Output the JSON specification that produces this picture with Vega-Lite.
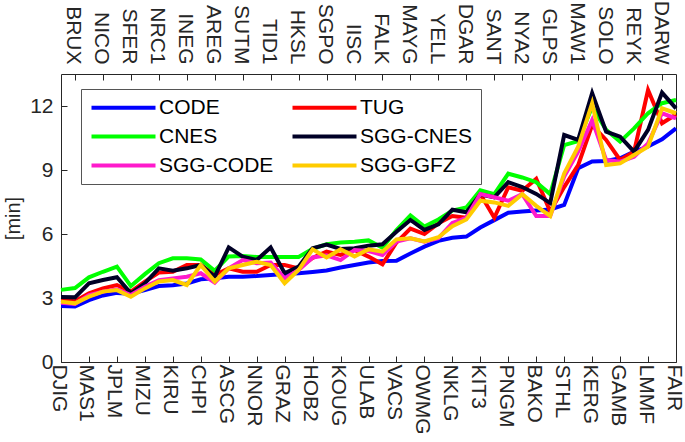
{
  "$schema": "https://vega.github.io/schema/vega-lite/v6.json",
  "width": 615,
  "height": 288,
  "autosize": "none",
  "padding": {"left": 61, "top": 74, "right": 9, "bottom": 80},
  "background": "white",
  "config": {
    "view": {"stroke": "#262626", "strokeWidth": 1},
    "font": "Liberation Sans",
    "axis": {
      "labelFont": "Liberation Sans",
      "labelFontSize": 21,
      "labelColor": "#262626",
      "titleFont": "Liberation Sans",
      "titleFontSize": 20,
      "titleFontWeight": "normal",
      "titleColor": "#262626",
      "domain": false,
      "grid": false,
      "tickColor": "#262626",
      "tickSize": -6,
      "tickWidth": 1
    }
  },
  "data": {
    "values": [
      {"st": "DJIG", "CODE": 2.62, "TUG": 2.91, "CNES": 3.38, "SGG-CNES": 3.05, "SGG-CODE": 2.78, "SGG-GFZ": 2.83},
      {"st": "BRUX", "CODE": 2.6, "TUG": 2.85, "CNES": 3.47, "SGG-CNES": 3.03, "SGG-CODE": 2.72, "SGG-GFZ": 2.75},
      {"st": "MAS1", "CODE": 2.9, "TUG": 3.22, "CNES": 3.97, "SGG-CNES": 3.69, "SGG-CODE": 3.14, "SGG-GFZ": 3.06},
      {"st": "NICO", "CODE": 3.12, "TUG": 3.45, "CNES": 4.23, "SGG-CNES": 3.84, "SGG-CODE": 3.3, "SGG-GFZ": 3.3},
      {"st": "JPLM", "CODE": 3.24, "TUG": 3.61, "CNES": 4.47, "SGG-CNES": 3.97, "SGG-CODE": 3.41, "SGG-GFZ": 3.37},
      {"st": "SFER", "CODE": 3.2, "TUG": 3.3, "CNES": 3.56, "SGG-CNES": 3.22, "SGG-CODE": 3.14, "SGG-GFZ": 3.06},
      {"st": "MIZU", "CODE": 3.37, "TUG": 3.77, "CNES": 4.12, "SGG-CNES": 3.69, "SGG-CODE": 3.53, "SGG-GFZ": 3.45},
      {"st": "NRC1", "CODE": 3.56, "TUG": 4.19, "CNES": 4.63, "SGG-CNES": 4.39, "SGG-CODE": 3.84, "SGG-GFZ": 3.77},
      {"st": "KIRU", "CODE": 3.6, "TUG": 4.23, "CNES": 4.86, "SGG-CNES": 4.28, "SGG-CODE": 3.92, "SGG-GFZ": 3.84},
      {"st": "INEG", "CODE": 3.68, "TUG": 4.55, "CNES": 4.86, "SGG-CNES": 4.39, "SGG-CODE": 4.0, "SGG-GFZ": 3.61},
      {"st": "CHPI", "CODE": 3.88, "TUG": 4.55, "CNES": 4.81, "SGG-CNES": 4.55, "SGG-CODE": 4.16, "SGG-GFZ": 4.55},
      {"st": "AREG", "CODE": 3.92, "TUG": 4.08, "CNES": 4.28, "SGG-CNES": 4.0, "SGG-CODE": 3.72, "SGG-GFZ": 3.77},
      {"st": "ASCG", "CODE": 4.0, "TUG": 4.39, "CNES": 4.95, "SGG-CNES": 5.37, "SGG-CODE": 4.39, "SGG-GFZ": 4.39},
      {"st": "SUTM", "CODE": 4.0, "TUG": 4.23, "CNES": 4.97, "SGG-CNES": 4.94, "SGG-CODE": 4.78, "SGG-GFZ": 4.55},
      {"st": "NNOR", "CODE": 4.03, "TUG": 4.23, "CNES": 4.92, "SGG-CNES": 4.78, "SGG-CODE": 4.63, "SGG-GFZ": 4.7},
      {"st": "TID1", "CODE": 4.08, "TUG": 4.55, "CNES": 4.92, "SGG-CNES": 5.37, "SGG-CODE": 4.66, "SGG-GFZ": 4.55},
      {"st": "GRAZ", "CODE": 4.12, "TUG": 4.55, "CNES": 4.92, "SGG-CNES": 4.16, "SGG-CODE": 3.92, "SGG-GFZ": 3.69},
      {"st": "HKSL", "CODE": 4.16, "TUG": 4.39, "CNES": 4.92, "SGG-CNES": 4.47, "SGG-CODE": 4.31, "SGG-GFZ": 4.31},
      {"st": "HOB2", "CODE": 4.22, "TUG": 4.88, "CNES": 5.3, "SGG-CNES": 5.33, "SGG-CODE": 4.9, "SGG-GFZ": 5.28},
      {"st": "SGPO", "CODE": 4.29, "TUG": 5.17, "CNES": 5.52, "SGG-CNES": 5.5, "SGG-CODE": 5.0, "SGG-GFZ": 4.9},
      {"st": "KOUG", "CODE": 4.43, "TUG": 5.02, "CNES": 5.6, "SGG-CNES": 5.3, "SGG-CODE": 4.78, "SGG-GFZ": 5.28},
      {"st": "IISC", "CODE": 4.55, "TUG": 5.25, "CNES": 5.64, "SGG-CNES": 5.33, "SGG-CODE": 5.25, "SGG-GFZ": 4.95},
      {"st": "ULAB", "CODE": 4.66, "TUG": 4.94, "CNES": 5.7, "SGG-CNES": 5.45, "SGG-CODE": 5.2, "SGG-GFZ": 5.28},
      {"st": "FALK", "CODE": 4.73, "TUG": 4.58, "CNES": 5.36, "SGG-CNES": 5.52, "SGG-CODE": 5.02, "SGG-GFZ": 5.17},
      {"st": "VACS", "CODE": 4.75, "TUG": 5.6, "CNES": 6.19, "SGG-CNES": 6.11, "SGG-CODE": 5.64, "SGG-GFZ": 5.75},
      {"st": "MAYG", "CODE": 5.09, "TUG": 6.25, "CNES": 6.87, "SGG-CNES": 6.66, "SGG-CODE": 5.8, "SGG-GFZ": 5.8},
      {"st": "OWMG", "CODE": 5.41, "TUG": 6.0, "CNES": 6.35, "SGG-CNES": 6.19, "SGG-CODE": 5.64, "SGG-GFZ": 5.65},
      {"st": "YELL", "CODE": 5.68, "TUG": 6.5, "CNES": 6.68, "SGG-CNES": 6.45, "SGG-CODE": 5.8, "SGG-GFZ": 5.85},
      {"st": "NKLG", "CODE": 5.82, "TUG": 6.84, "CNES": 7.1, "SGG-CNES": 7.14, "SGG-CODE": 6.52, "SGG-GFZ": 6.37},
      {"st": "DGAR", "CODE": 5.88, "TUG": 6.76, "CNES": 7.24, "SGG-CNES": 7.02, "SGG-CODE": 6.76, "SGG-GFZ": 6.68},
      {"st": "KIT3", "CODE": 6.3, "TUG": 7.87, "CNES": 8.05, "SGG-CNES": 7.85, "SGG-CODE": 7.87, "SGG-GFZ": 7.56},
      {"st": "SANT", "CODE": 6.65, "TUG": 6.76, "CNES": 7.87, "SGG-CNES": 7.72, "SGG-CODE": 7.72, "SGG-GFZ": 7.48},
      {"st": "PNGM", "CODE": 7.0, "TUG": 8.19, "CNES": 8.83, "SGG-CNES": 8.43, "SGG-CODE": 7.56, "SGG-GFZ": 7.32},
      {"st": "NYA2", "CODE": 7.05, "TUG": 8.03, "CNES": 8.65, "SGG-CNES": 8.2, "SGG-CODE": 7.87, "SGG-GFZ": 7.87},
      {"st": "BAKO", "CODE": 7.1, "TUG": 8.59, "CNES": 8.43, "SGG-CNES": 7.88, "SGG-CODE": 6.84, "SGG-GFZ": 7.32},
      {"st": "GLPS", "CODE": 7.15, "TUG": 7.05, "CNES": 7.87, "SGG-CNES": 7.45, "SGG-CODE": 6.84, "SGG-GFZ": 6.84},
      {"st": "STHL", "CODE": 7.36, "TUG": 8.2, "CNES": 10.17, "SGG-CNES": 10.64, "SGG-CODE": 8.69, "SGG-GFZ": 8.84},
      {"st": "MAW1", "CODE": 9.08, "TUG": 9.23, "CNES": 10.35, "SGG-CNES": 10.41, "SGG-CODE": 9.86, "SGG-GFZ": 10.09},
      {"st": "KERG", "CODE": 9.4, "TUG": 11.1, "CNES": 11.97, "SGG-CNES": 12.6, "SGG-CODE": 11.34, "SGG-GFZ": 12.13},
      {"st": "SOLO", "CODE": 9.42, "TUG": 10.41, "CNES": 10.88, "SGG-CNES": 10.8, "SGG-CODE": 9.47, "SGG-GFZ": 9.23},
      {"st": "GAMB", "CODE": 9.55, "TUG": 9.47, "CNES": 10.33, "SGG-CNES": 10.56, "SGG-CODE": 9.39, "SGG-GFZ": 9.31},
      {"st": "REYK", "CODE": 9.86, "TUG": 9.86, "CNES": 10.95, "SGG-CNES": 9.86, "SGG-CODE": 9.62, "SGG-GFZ": 9.7},
      {"st": "LMMF", "CODE": 10.1, "TUG": 12.75, "CNES": 11.66, "SGG-CNES": 10.88, "SGG-CODE": 10.25, "SGG-GFZ": 10.09},
      {"st": "DARW", "CODE": 10.44, "TUG": 11.19, "CNES": 12.13, "SGG-CNES": 12.63, "SGG-CODE": 11.66, "SGG-GFZ": 11.89},
      {"st": "FAIR", "CODE": 10.95, "TUG": 11.6, "CNES": 12.28, "SGG-CNES": 11.89, "SGG-CODE": 11.42, "SGG-GFZ": 11.66}
    ]
  },
  "transform": [
    {"fold": ["CODE", "TUG", "CNES", "SGG-CNES", "SGG-CODE", "SGG-GFZ"], "as": ["series", "v"]}
  ],
  "encoding": {
    "y": {
      "field": "v",
      "type": "quantitative",
      "scale": {"domain": [0, 13.5], "nice": false, "zero": true},
      "axis": {"values": [0, 3, 6, 9, 12], "title": "[min]", "labelPadding": 14, "titlePadding": 6}
    }
  },
  "layer": [
    {
      "mark": {"type": "line", "strokeWidth": 4, "strokeJoin": "miter"},
      "encoding": {
        "x": {
          "field": "st",
          "type": "ordinal",
          "sort": null,
          "scale": {"type": "point", "padding": 0},
          "axis": {
            "orient": "bottom",
            "title": null,
            "labelAngle": 90,
            "labelPadding": 8,
            "labelOffset": -3,
            "labelOverlap": false,
            "values": ["DJIG", "MAS1", "JPLM", "MIZU", "KIRU", "CHPI", "ASCG", "NNOR", "GRAZ", "HOB2", "KOUG", "ULAB", "VACS", "OWMG", "NKLG", "KIT3", "PNGM", "BAKO", "STHL", "KERG", "GAMB", "LMMF", "FAIR"]
          }
        },
        "color": {
          "field": "series",
          "type": "nominal",
          "scale": {
            "domain": ["CODE", "CNES", "SGG-CODE", "TUG", "SGG-CNES", "SGG-GFZ"],
            "range": ["#0000FF", "#00FF00", "#FF1ACC", "#FF0000", "#000026", "#FFCC00"]
          },
          "legend": {
            "orient": "none",
            "legendX": 20,
            "legendY": 15,
            "columns": 2,
            "title": null,
            "symbolType": "M-4,0H4",
            "symbolSize": 256,
            "symbolOffset": 24,
            "symbolStrokeWidth": 4,
            "labelFont": "Liberation Sans",
            "labelFontSize": 21,
            "labelColor": "#000000",
            "labelOffset": 25,
            "labelLimit": 200,
            "columnPadding": 10,
            "rowPadding": 7,
            "padding": 8,
            "strokeColor": "#555555",
            "fillColor": "#FFFFFF"
          }
        }
      }
    },
    {
      "mark": {"type": "point", "opacity": 0},
      "encoding": {
        "x": {
          "field": "st",
          "type": "ordinal",
          "sort": null,
          "scale": {"type": "point", "padding": 0},
          "axis": {
            "orient": "top",
            "title": null,
            "labelAngle": 90,
            "labelPadding": 16,
            "labelOffset": -2,
            "labelOverlap": false,
            "values": ["BRUX", "NICO", "SFER", "NRC1", "INEG", "AREG", "SUTM", "TID1", "HKSL", "SGPO", "IISC", "FALK", "MAYG", "YELL", "DGAR", "SANT", "NYA2", "GLPS", "MAW1", "SOLO", "REYK", "DARW"]
          }
        }
      }
    }
  ],
  "resolve": {"axis": {"x": "independent"}}
}
